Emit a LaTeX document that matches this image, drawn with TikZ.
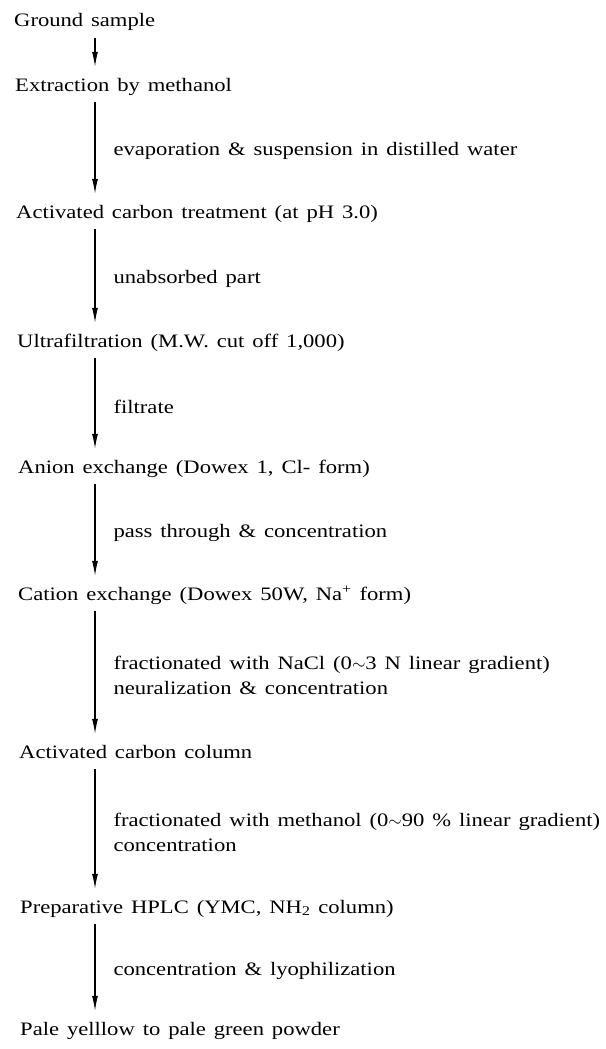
\documentclass[tikz,border=0pt]{standalone}
\usepackage{fontspec}
\setmainfont[WordSpace=1.4, FakeStretch=1.19]{Liberation Serif}
\usepackage{tikz}
\usetikzlibrary{arrows.meta}

\tikzset{
  stepbox/.style={anchor=base west, inner xsep=0pt, inner ysep=6pt,
    text height=18pt, text depth=5pt},
  lbl/.style={anchor=west, inner sep=0pt, xshift=18pt, yshift=-3pt, align=left},
  flow/.style={-{Latex[length=15pt,width=6pt]}, line width=1.1pt}
}

\begin{document}
\begin{tikzpicture}[x=1pt, y=-1pt, font=\fontsize{19}{25}\selectfont]
    \useasboundingbox (0,0) rectangle (605,1049);
    \coordinate (X) at (95,0);
    \node[stepbox] (A) at (14,27) {Ground sample};
    \node[stepbox] (B) at (15,91) {Extraction by methanol};
    \node[stepbox] (C) at (16,218) {Activated carbon treatment (at pH 3.0)};
    \node[stepbox] (D) at (17,347) {Ultrafiltration (M.W. cut off 1,000)};
    \node[stepbox] (E) at (18,473) {Anion exchange (Dowex 1, Cl- form)};
    \node[stepbox] (F) at (18,600) {Cation exchange (Dowex 50W, Na\textsuperscript{+} form)};
    \node[stepbox] (G) at (19,758) {Activated carbon column};
    \node[stepbox] (H) at (20,913) {Preparative HPLC (YMC, NH\textsubscript{2} column)};
    \node[stepbox] (I) at (20,1035) {Pale yelllow to pale green powder};
    \path [flow] (A.south -| X) edge (B.north -| X);
    \path [flow] (B.south -| X) edge node[lbl] (L1) {evaporation \& suspension in distilled water} (C.north -| X);
    \path [flow] (C.south -| X) edge node[lbl] (L2) {unabsorbed part} (D.north -| X);
    \path [flow] (D.south -| X) edge node[lbl] (L3) {filtrate} (E.north -| X);
    \path [flow] (E.south -| X) edge node[lbl] (L4) {pass through \& concentration} (F.north -| X);
    \path [flow] (F.south -| X) edge node[lbl] (L5) {fractionated with NaCl (0$\sim$3 N linear gradient)\\neuralization \& concentration} (G.north -| X);
    \path [flow] (G.south -| X) edge node[lbl] (L6) {fractionated with methanol (0$\sim$90 \% linear gradient)\\concentration} (H.north -| X);
    \path [flow] (H.south -| X) edge node[lbl] (L7) {concentration \& lyophilization} (I.north -| X);
  \end{tikzpicture}
\end{document}
